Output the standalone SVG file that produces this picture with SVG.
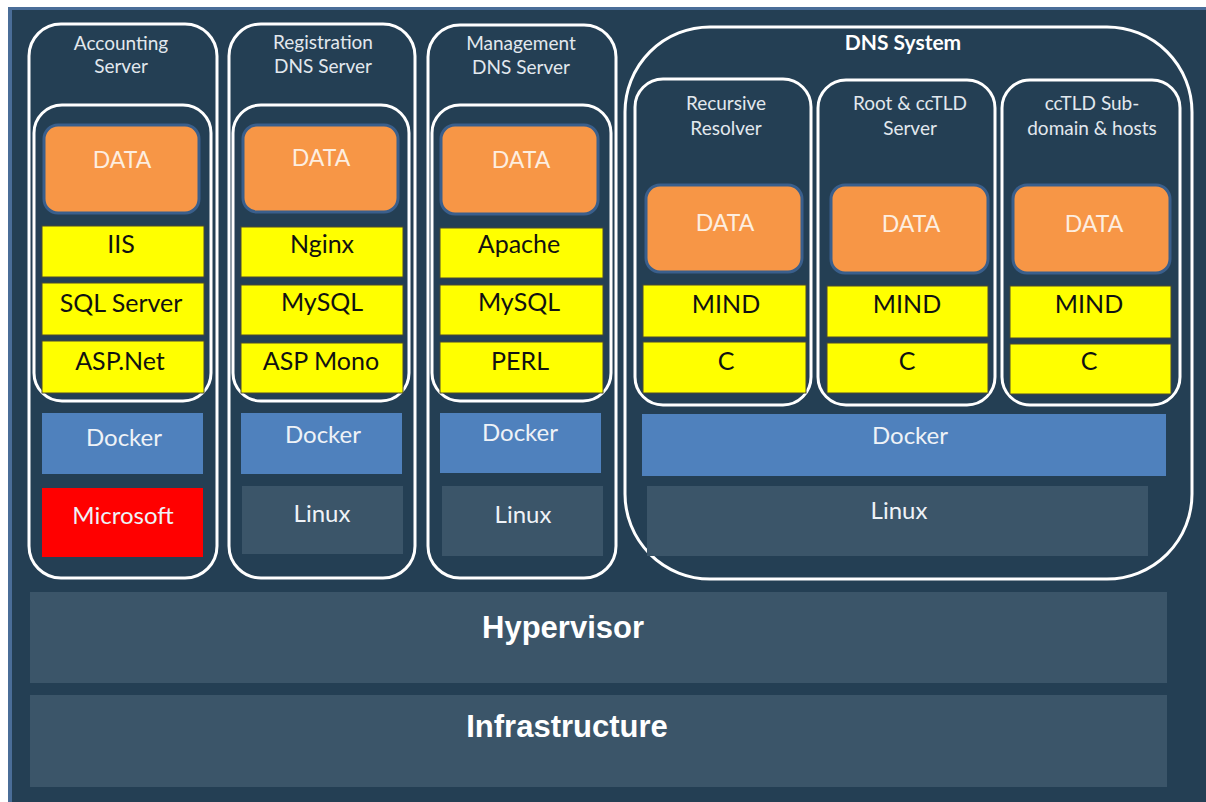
<svg xmlns="http://www.w3.org/2000/svg" width="1206" height="802" viewBox="0 0 1206 802">
<style>
.bg{fill:#243f54}
.frame{fill:none;stroke:#ffffff;stroke-width:3}
.data{fill:#f79646;stroke:#3a5f8c;stroke-width:3}
.yel{fill:#ffff00;stroke:#4a4a30;stroke-width:1}
.dock{fill:#4f81bd}
.lin{fill:#3b5569}
.ms{fill:#ff0000}
text{font-family:Lato,"Open Sans","Liberation Sans",sans-serif;text-anchor:middle}
.title{font-size:19px;fill:#e2e8ee}
.dt{font-size:23px;fill:#fdeee0}
.yt{font-size:25px;fill:#111111}
.wt{font-size:24px;fill:#eef2f7}
.big{font-family:"Liberation Sans",Arial,sans-serif;font-weight:bold;font-size:31px;fill:#ffffff}
.dns{font-size:21px;font-weight:bold;fill:#ffffff}
</style>
<rect x="0" y="0" width="1206" height="802" fill="#ffffff"/>
<rect x="8" y="7" width="1198" height="795" class="bg"/>
<rect x="8" y="7" width="1198" height="3" fill="#4a6d98"/>
<rect x="8" y="7" width="4" height="795" fill="#4a6d98"/>

<g id="accounting">
<rect x="29" y="24" width="188" height="554" rx="32" class="frame"/>
<text x="121" y="50" class="title">Accounting</text>
<text x="121" y="73" class="title">Server</text>
<rect x="34" y="105" width="177" height="296" rx="28" class="frame"/>
<rect x="44" y="125" width="155" height="88" rx="14" class="data"/>
<text x="122" y="168" class="dt">DATA</text>
<rect x="42" y="226" width="162" height="51" class="yel"/>
<text x="121" y="253" class="yt">IIS</text>
<rect x="42" y="283" width="162" height="52" class="yel"/>
<text x="121" y="312" class="yt">SQL Server</text>
<rect x="42" y="341" width="162" height="52" class="yel"/>
<text x="120" y="370" class="yt">ASP.Net</text>
<rect x="42" y="413" width="161" height="61" class="dock"/>
<text x="124" y="446" class="wt">Docker</text>
<rect x="42" y="488" width="161" height="69" class="ms"/>
<text x="123" y="524" class="wt">Microsoft</text>
</g>

<g id="registration">
<rect x="229" y="24" width="186" height="554" rx="32" class="frame"/>
<text x="323" y="49" class="title">Registration</text>
<text x="323" y="73" class="title">DNS Server</text>
<rect x="233" y="105" width="176" height="296" rx="28" class="frame"/>
<rect x="243" y="125" width="155" height="87" rx="14" class="data"/>
<text x="321" y="166" class="dt">DATA</text>
<rect x="241" y="227" width="162" height="50" class="yel"/>
<text x="322" y="253" class="yt">Nginx</text>
<rect x="241" y="285" width="162" height="50" class="yel"/>
<text x="322" y="311" class="yt">MySQL</text>
<rect x="241" y="343" width="162" height="50" class="yel"/>
<text x="321" y="370" class="yt">ASP Mono</text>
<rect x="241" y="413" width="161" height="61" class="dock"/>
<text x="323" y="443" class="wt">Docker</text>
<rect x="242" y="486" width="161" height="68" class="lin"/>
<text x="322" y="522" class="wt">Linux</text>
</g>

<g id="management">
<rect x="428" y="25" width="188" height="553" rx="32" class="frame"/>
<text x="521" y="50" class="title">Management</text>
<text x="521" y="74" class="title">DNS Server</text>
<rect x="432" y="105" width="179" height="296" rx="28" class="frame"/>
<rect x="441" y="125" width="157" height="89" rx="14" class="data"/>
<text x="521" y="168" class="dt">DATA</text>
<rect x="440" y="228" width="163" height="50" class="yel"/>
<text x="519" y="253" class="yt">Apache</text>
<rect x="440" y="285" width="163" height="50" class="yel"/>
<text x="519" y="311" class="yt">MySQL</text>
<rect x="440" y="342" width="163" height="51" class="yel"/>
<text x="520" y="370" class="yt">PERL</text>
<rect x="440" y="413" width="161" height="60" class="dock"/>
<text x="520" y="441" class="wt">Docker</text>
<rect x="442" y="486" width="161" height="70" class="lin"/>
<text x="523" y="523" class="wt">Linux</text>
</g>

<g id="dns-system">
<rect x="625" y="27" width="567" height="552" rx="85" class="frame"/>
<text x="903" y="50" class="dns">DNS System</text>
<rect x="642" y="414" width="524" height="62" class="dock"/>
<text x="910" y="444" class="wt">Docker</text>
<rect x="647" y="486" width="501" height="70" class="lin"/>
<text x="899" y="519" class="wt">Linux</text>
</g>

<g id="recursive-resolver">
<rect x="635" y="79" width="176" height="326" rx="28" class="frame"/>
<text x="726" y="110" class="title">Recursive</text>
<text x="726" y="135" class="title">Resolver</text>
<rect x="646" y="185" width="156" height="87" rx="14" class="data"/>
<text x="725" y="231" class="dt">DATA</text>
<rect x="643" y="285" width="163" height="52" class="yel"/>
<text x="726" y="313" class="yt">MIND</text>
<rect x="643" y="342" width="163" height="51" class="yel"/>
<text x="726" y="370" class="yt">C</text>
</g>

<g id="root-cctld">
<rect x="818" y="80" width="177" height="325" rx="28" class="frame"/>
<text x="910" y="110" class="title">Root &amp; ccTLD</text>
<text x="910" y="135" class="title">Server</text>
<rect x="831" y="185" width="157" height="88" rx="14" class="data"/>
<text x="911" y="232" class="dt">DATA</text>
<rect x="827" y="286" width="161" height="51" class="yel"/>
<text x="907" y="313" class="yt">MIND</text>
<rect x="827" y="343" width="161" height="50" class="yel"/>
<text x="907" y="370" class="yt">C</text>
</g>

<g id="cctld-subdomain">
<rect x="1002" y="80" width="178" height="325" rx="28" class="frame"/>
<text x="1092" y="110" class="title">ccTLD Sub-</text>
<text x="1092" y="135" class="title">domain &amp; hosts</text>
<rect x="1013" y="185" width="157" height="88" rx="14" class="data"/>
<text x="1094" y="232" class="dt">DATA</text>
<rect x="1010" y="286" width="161" height="52" class="yel"/>
<text x="1089" y="313" class="yt">MIND</text>
<rect x="1010" y="344" width="161" height="50" class="yel"/>
<text x="1089" y="370" class="yt">C</text>
</g>

<g id="hypervisor">
<rect x="30" y="592" width="1137" height="91" class="lin"/>
<text x="563" y="638" class="big">Hypervisor</text>
</g>

<g id="infrastructure">
<rect x="30" y="695" width="1137" height="92" class="lin"/>
<text x="567" y="737" class="big">Infrastructure</text>
</g>

<g id="connectors"></g>
</svg>
